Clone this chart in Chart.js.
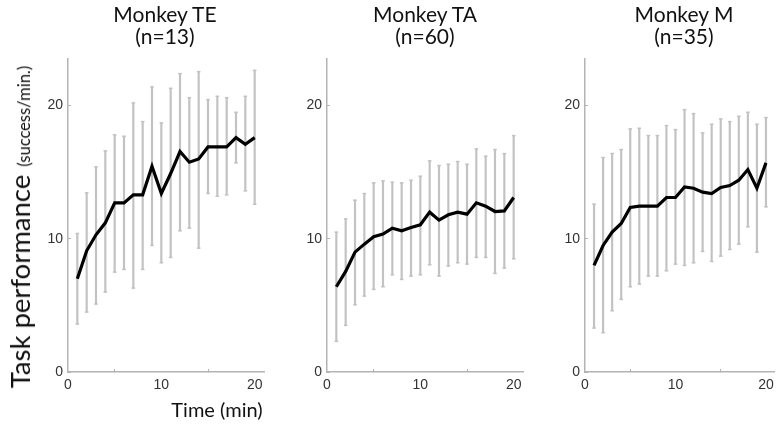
<!DOCTYPE html>
<html>
<head>
<meta charset="utf-8">
<script src="https://cdn.jsdelivr.net/npm/chart.js@4.4.0/dist/chart.umd.min.js"></script>
<style>
    body { margin: 0; background: #fff; }
    #wrap { position: relative; width: 782px; height: 430px; overflow: hidden; }
    canvas { position: absolute; left: 0; top: 0; }
    .titulo { position: absolute; top: 3px; width: 200px; text-align: center; font-family: Lato, sans-serif; font-size: 21px; line-height: 22px; color: #111; }
    #eixo_y { position: absolute; left: 22px; top: 227px; white-space: nowrap; font-family: Lato, sans-serif; color: #111; line-height: 28px; transform: translate(-50%, -50%) rotate(-90deg); }
    #eixo_y .grande { font-size: 27.5px; }
    #eixo_y .pequeno { font-size: 16.5px; margin-left: 8px; }
    #eixo_x { position: absolute; left: 217px; top: 397px; transform: translateX(-50%); white-space: nowrap; font-family: Lato, sans-serif; font-size: 20px; color: #111; }
</style>
</head>
<body>
<div id="wrap">
    <canvas id="graf_te" width="782" height="430"></canvas>
    <canvas id="graf_ta" width="782" height="430"></canvas>
    <canvas id="graf_m" width="782" height="430"></canvas>
    <div class="titulo" style="left: 65px">Monkey TE<br>(n=13)</div>
    <div class="titulo" style="left: 325px">Monkey TA<br>(n=60)</div>
    <div class="titulo" style="left: 584px">Monkey M<br>(n=35)</div>
    <div id="eixo_y"><span class="grande">Task performance</span><span class="pequeno">(success/min.)</span></div>
    <div id="eixo_x">Time (min)</div>
</div>

<script>
var minutos = [1, 2, 3, 4, 5, 6, 7, 8, 9, 10, 11, 12, 13, 14, 15, 16, 17, 18, 19, 20];
var ticks_x = [0, 10, 20];
var ticks_y = [0, 10, 20];

var te_media = [7.0, 9.1, 10.3, 11.2, 12.7, 12.7, 13.3, 13.3, 15.45, 13.4, 14.9, 16.55, 15.75, 16.0, 16.9, 16.9, 16.9, 17.6, 17.1, 17.6];
var te_alto = [10.4, 13.45, 15.4, 16.6, 17.8, 17.7, 20.2, 18.8, 21.4, 18.7, 21.3, 22.4, 20.6, 22.55, 20.45, 20.7, 20.6, 19.5, 20.7, 22.65];
var te_baixo = [3.6, 4.5, 5.1, 6.0, 7.5, 7.7, 6.3, 7.7, 9.5, 8.2, 8.6, 10.6, 10.8, 9.3, 13.4, 13.2, 13.3, 15.7, 13.6, 12.6];

var ta_media = [6.4, 7.55, 9.0, 9.6, 10.15, 10.35, 10.8, 10.6, 10.85, 11.05, 12.0, 11.4, 11.8, 12.0, 11.85, 12.7, 12.45, 12.05, 12.1, 13.1];
var ta_alto = [10.5, 11.5, 12.9, 13.4, 14.2, 14.35, 14.25, 14.2, 14.4, 14.7, 15.85, 15.5, 15.6, 15.8, 15.6, 16.75, 16.2, 16.7, 16.4, 17.75];
var ta_baixo = [2.3, 3.5, 5.05, 5.7, 6.2, 6.4, 7.3, 6.95, 7.2, 7.3, 8.05, 7.2, 7.95, 8.2, 8.1, 8.6, 8.6, 7.4, 7.8, 8.5];

var m_media = [8.0, 9.5, 10.5, 11.15, 12.35, 12.45, 12.45, 12.45, 13.1, 13.1, 13.9, 13.8, 13.5, 13.4, 13.85, 14.0, 14.4, 15.2, 13.8, 15.7];
var m_alto = [12.6, 16.1, 16.4, 16.7, 18.25, 18.3, 17.75, 17.75, 18.5, 18.2, 19.7, 19.4, 17.95, 18.6, 19.0, 18.8, 19.2, 19.5, 18.6, 19.1];
var m_baixo = [3.3, 2.95, 4.6, 5.45, 6.4, 6.6, 7.2, 7.2, 7.6, 8.1, 8.0, 8.2, 9.05, 8.3, 8.7, 9.2, 9.6, 10.9, 9.0, 12.4];

var cinza = '#c2c2c2';
var cor_eixo = '#b4b4b4';

function pontos(valores) {
    var lista = [];
    for (let c = 0; c < minutos.length; c++) {
        lista.push({ x: minutos[c], y: valores[c] });
    }
    return lista;
}

function barras(baixo, alto) {
    var lista = [];
    for (let c = 0; c < minutos.length; c++) {
        lista.push({ x: minutos[c], y: [baixo[c], alto[c]] });
    }
    return lista;
}

function montar(id, media, alto, baixo, esquerda, direita) {
    const data = {
        datasets: [
            {
                type: 'line',
                data: pontos(media),
                borderColor: '#000',
                borderWidth: 3.2,
                pointRadius: 0,
                tension: 0,
                order: 0
            },
            {
                type: 'line',
                data: pontos(alto),
                showLine: false,
                pointStyle: 'line',
                pointRadius: 1.8,
                pointBorderWidth: 1.5,
                pointBorderColor: cinza,
                order: 1
            },
            {
                type: 'line',
                data: pontos(baixo),
                showLine: false,
                pointStyle: 'line',
                pointRadius: 1.8,
                pointBorderWidth: 1.5,
                pointBorderColor: cinza,
                order: 1
            },
            {
                type: 'bar',
                data: barras(baixo, alto),
                backgroundColor: cinza,
                borderWidth: 0,
                barThickness: 1.5,
                order: 2
            }
        ]
    };

    const config = {
        type: 'line',
        data: data,
        options: {
            responsive: false,
            animation: false,
            devicePixelRatio: 1,
            layout: {
                padding: { left: esquerda - 30, right: 782 - direita, top: 59, bottom: 18 }
            },
            plugins: {
                legend: { display: false },
                tooltip: { enabled: false }
            },
            scales: {
                x: {
                    type: 'linear',
                    min: 0,
                    max: 21,
                    offset: false,
                    afterFit: function (escala) { escala.height = 40; },
                    afterBuildTicks: function (escala) {
                        escala.ticks = ticks_x.map(function (v) { return { value: v }; });
                    },
                    grid: { drawOnChartArea: false, drawTicks: true, tickLength: -3, color: cor_eixo, lineWidth: 1 },
                    border: { color: cor_eixo, width: 1.5 },
                    ticks: {
                        padding: 8,
                        color: '#333',
                        font: { family: 'Liberation Sans, Arial, sans-serif', size: 14 },
                        maxRotation: 0
                    }
                },
                y: {
                    type: 'linear',
                    min: 0,
                    max: 23.5,
                    afterFit: function (escala) { escala.width = 30; },
                    afterBuildTicks: function (escala) {
                        escala.ticks = ticks_y.map(function (v) { return { value: v }; });
                    },
                    grid: { drawOnChartArea: false, drawTicks: true, tickLength: -3, color: cor_eixo, lineWidth: 1 },
                    border: { color: cor_eixo, width: 1.5 },
                    ticks: {
                        padding: 8,
                        color: '#333',
                        font: { family: 'Liberation Sans, Arial, sans-serif', size: 14 }
                    }
                }
            }
        }
    };

    const myChart = new Chart(document.getElementById(id), config);
}

montar('graf_te', te_media, te_alto, te_baixo, 68, 264);
montar('graf_ta', ta_media, ta_alto, ta_baixo, 327, 523);
montar('graf_m', m_media, m_alto, m_baixo, 585, 781);
</script>
</body>
</html>
